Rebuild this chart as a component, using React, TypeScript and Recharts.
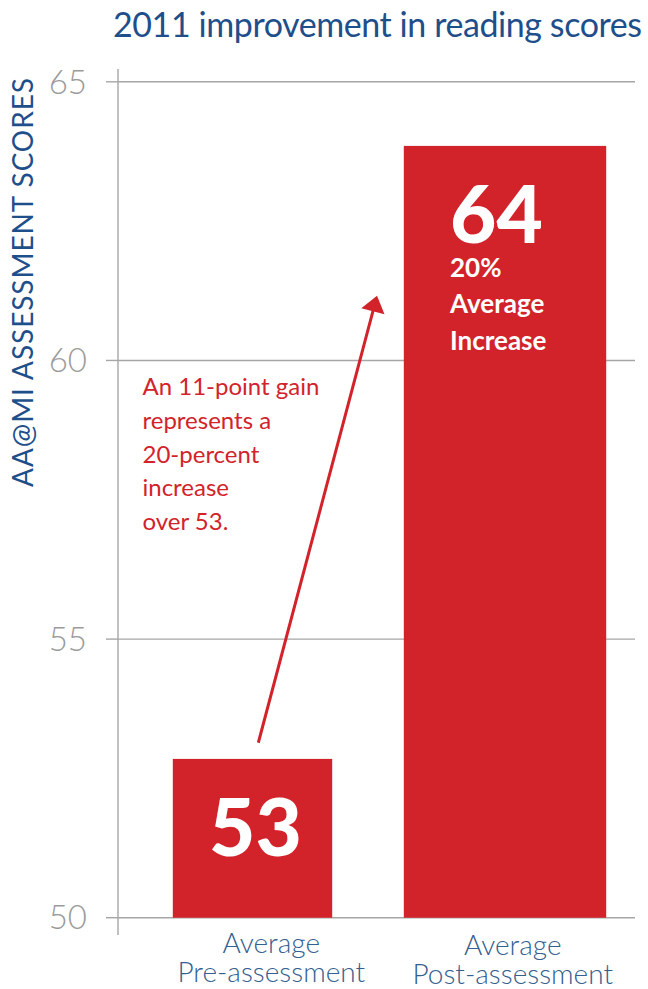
import { BarChart, Bar, XAxis, YAxis, CartesianGrid, ReferenceLine, LabelList } from "recharts";

// categories and values
const categories = ["Pre-assessment", "Post-assessment"];
const scores = [52.85, 63.85]; // drawn height of the bars
const scoreLabels = ["53", "64"]; // numbers printed in the bars
const yTicks = [50, 55, 60, 65];
const increaseLines = ["20%", "Average", "Increase"];
const noteLines = ["An 11-point gain", "represents a", "20-percent", "increase", "over 53."];
// arrow from just above the first bar to the second bar, in data units (x: 0..1 across plot)
const arrowFrom = { x: 0.2714, y: 53.14 };
const arrowTo = { x: 0.501, y: 61.16 };

const rows = categories.map((name, i) => ({ name, range: [50, scores[i]], label: scoreLabels[i] }));

const RED = "#d2232b";
const BLUE = "#1f4f8b";
const LABEL_BLUE = "#33608f";
const GRID = "#a6a6a6";
const FONT = "Lato, 'Open Sans', sans-serif";

const barFrac = [0.63, 0.8];
const tickShift = [{ dx: 19, dy: 0 }, { dx: 8, dy: 2 }];

function BarShape(p: any) {
  const w = p.width * barFrac[p.index];
  const top = Math.min(p.y, p.y + p.height);
  return <rect x={p.x + (p.width - w) / 2} y={top} width={w} height={Math.abs(p.height)} fill={RED} />;
}

function BarLabel(p: any) {
  const cx = p.x + p.width / 2;
  const top = Math.min(p.y, p.y + p.height);
  if (p.index === 0) {
    return (
      <text x={cx + 3} y={top + 97} textAnchor="middle" fill="#fff" fontSize={80} fontWeight={900} fontFamily={FONT}>
        {p.value}
      </text>
    );
  }
  const left = cx - 55;
  return (
    <g fill="#fff" fontFamily={FONT}>
      <text x={left} y={top + 97} fontSize={80} fontWeight={900}>{p.value}</text>
      {increaseLines.map((t, i) => (
        <text key={t} x={left} y={top + 131 + i * 36.5} fontSize={26} fontWeight={700}>{t}</text>
      ))}
    </g>
  );
}

function XTick(p: any) {
  const s = tickShift[p.index] || { dx: 0, dy: 0 };
  return (
    <g fill={LABEL_BLUE} fontFamily={FONT} fontSize={28} fontWeight={300}>
      <text x={p.x + s.dx} y={p.y + 18 + s.dy} textAnchor="middle">Average</text>
      <text x={p.x + s.dx} y={p.y + 47 + s.dy} textAnchor="middle">{p.payload.value}</text>
    </g>
  );
}

function Arrow(p: any) {
  const { x1, y1, x2, y2 } = p;
  const dx = x2 - x1, dy = y2 - y1;
  const L = Math.hypot(dx, dy);
  const ux = dx / L, uy = dy / L;
  const hl = 16, hw = 12;
  const bx = x2 - ux * hl, by = y2 - uy * hl;
  const nx = -uy, ny = ux;
  return (
    <g>
      <line x1={x1} y1={y1} x2={bx + ux * 2} y2={by + uy * 2} stroke={RED} strokeWidth={3} />
      <polygon points={`${x2},${y2} ${bx + nx * hw},${by + ny * hw} ${bx - nx * hw},${by - ny * hw}`} fill={RED} />
    </g>
  );
}

export default function App() {
  return (
    <div style={{ position: "absolute", left: 0, top: 0 }}>
      <BarChart
        width={648}
        height={989}
        data={rows}
        margin={{ top: 69, right: 13, bottom: 0, left: 0 }}
        barCategoryGap={0}
      >
        <CartesianGrid vertical={false} stroke={GRID} strokeWidth={1.4} syncWithTicks />
        <XAxis
          dataKey="name"
          padding={{ left: 8, right: 4 }}
          axisLine={false}
          tickLine={false}
          tickSize={0}
          tickMargin={0}
          height={54}
          interval={0}
          tick={<XTick />}
        />
        <XAxis xAxisId="n" type="number" domain={[0, 1]} hide />
        <YAxis
          width={118}
          domain={[49.69, 65.23]}
          ticks={yTicks}
          allowDataOverflow
          tickSize={12}
          tickMargin={19}
          axisLine={{ stroke: GRID, strokeWidth: 1.4 }}
          tickLine={{ stroke: GRID, strokeWidth: 1.4 }}
          tick={{ fill: "#9b9b9b", fontSize: 33, fontFamily: FONT, fontWeight: 300 }}
        />
        <Bar dataKey="range" fill={RED} isAnimationActive={false} shape={BarShape}>
          <LabelList dataKey="label" content={BarLabel} />
        </Bar>
        <ReferenceLine xAxisId="n" segment={[arrowFrom, arrowTo]} shape={Arrow} ifOverflow="visible" />
        <text x={113} y={37} fontSize={34} fill={BLUE} fontFamily={FONT} textLength={529}>
          2011 improvement in reading scores
        </text>
        <text
          transform="translate(33,282.5) rotate(-90)"
          textAnchor="middle"
          fontSize={28}
          fill={BLUE}
          fontFamily={FONT}
          textLength={409}
        >
          AA@MI ASSESSMENT SCORES
        </text>
        <g fill={RED} fontFamily={FONT} fontSize={24}>
          {noteLines.map((t, i) => (
            <text key={t} x={142.5} y={395 + i * 33.8}>{t}</text>
          ))}
        </g>
      </BarChart>
    </div>
  );
}
